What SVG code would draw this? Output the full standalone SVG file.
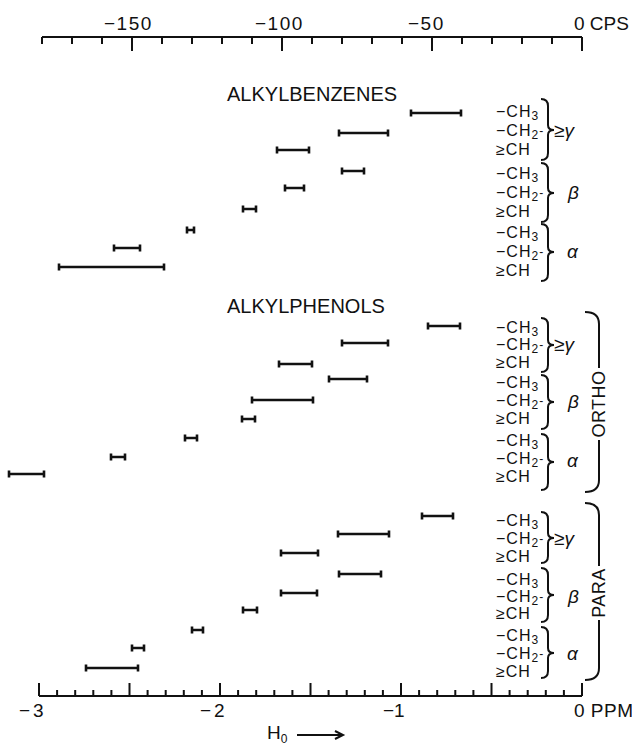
<svg xmlns="http://www.w3.org/2000/svg" width="632" height="748" viewBox="0 0 632 748">
<style>
.ax{stroke:#111;stroke-width:2;fill:none}
.bar{stroke:#111;stroke-width:2.6;fill:none}
.br{stroke:#111;stroke-width:2;fill:none}
text{font-family:"Liberation Sans",Arial,sans-serif;fill:#111}
.num{font-size:19px;letter-spacing:1.5px}
.hd{font-size:20px}
.lb{font-size:16px;letter-spacing:1px}
.gr{font-size:19px;font-style:italic;letter-spacing:0}
.sub{font-size:12px}
.side{font-size:18px;letter-spacing:0.5px}
</style>
<rect width="632" height="748" fill="#fff"/>
<g id="top-axis">
<path class="ax" d="M42,37H582 M42,37V44 M72,37V44 M102,37V44 M132,37V51 M162,37V44 M192,37V44 M222,37V44 M252,37V44 M282,37V51 M312,37V44 M342,37V44 M372,37V44 M402,37V44 M432,37V51 M462,37V44 M492,37V44 M522,37V44 M552,37V44 M582,37V51"/>
<text class="num" x="104" y="30">−150</text>
<text class="num" x="255" y="30">−100</text>
<text class="num" x="408" y="30">−50</text>
<text class="num" x="574" y="30" style="letter-spacing:0">0 CPS</text>
</g>
<g id="bottom-axis">
<path class="ax" d="M39,696H582 M39,696V683 M57.1,696V690 M75.2,696V690 M93.3,696V690 M111.4,696V690 M129.5,696V683 M147.6,696V690 M165.7,696V690 M183.8,696V690 M201.9,696V690 M220,696V683 M238.1,696V690 M256.2,696V690 M274.3,696V690 M292.4,696V690 M310.5,696V683 M328.6,696V690 M346.7,696V690 M364.8,696V690 M382.9,696V690 M401,696V683 M419.1,696V690 M437.2,696V690 M455.3,696V690 M473.4,696V690 M491.5,696V683 M509.6,696V690 M527.7,696V690 M545.8,696V690 M563.9,696V690 M582,696V683"/>
<text class="num" x="19" y="717" style="letter-spacing:3px">−3</text>
<text class="num" x="200" y="717" style="letter-spacing:3px">−2</text>
<text class="num" x="383" y="717" style="letter-spacing:0">−1</text>
<text class="num" x="574" y="717" style="letter-spacing:0.5px">0 PPM</text>
<text class="num" x="267" y="739" style="letter-spacing:0">H<tspan class="sub" dy="4">0</tspan></text>
<path class="ax" d="M297,735H343 M335,731L343,735L335,739" stroke-width="1.6"/>
</g>
<g id="headings">
<text class="hd" x="227" y="101">ALKYLBENZENES</text>
<text class="hd" x="227" y="313">ALKYLPHENOLS</text>
</g>
<g id="bars-benzenes" class="bar">
<path d="M411,113H461M411,109.5V116.5M461,109.5V116.5"/>
<path d="M339,133H388M339,129.5V136.5M388,129.5V136.5"/>
<path d="M277,150H309M277,146.5V153.5M309,146.5V153.5"/>
<path d="M342,171H364M342,167.5V174.5M364,167.5V174.5"/>
<path d="M285,188H304M285,184.5V191.5M304,184.5V191.5"/>
<path d="M243,209H256M243,205.5V212.5M256,205.5V212.5"/>
<path d="M187,230H194M187,226.5V233.5M194,226.5V233.5"/>
<path d="M114,248H140M114,244.5V251.5M140,244.5V251.5"/>
<path d="M59,267H164M59,263.5V270.5M164,263.5V270.5"/>
</g>
<g id="bars-ortho" class="bar">
<path d="M428,326H460M428,322.5V329.5M460,322.5V329.5"/>
<path d="M342,343H388M342,339.5V346.5M388,339.5V346.5"/>
<path d="M279,364H312M279,360.5V367.5M312,360.5V367.5"/>
<path d="M329,379H367M329,375.5V382.5M367,375.5V382.5"/>
<path d="M252,400H313M252,396.5V403.5M313,396.5V403.5"/>
<path d="M242,419H255M242,415.5V422.5M255,415.5V422.5"/>
<path d="M185,438H197M185,434.5V441.5M197,434.5V441.5"/>
<path d="M111,457H125M111,453.5V460.5M125,453.5V460.5"/>
<path d="M9,474H44M9,470.5V477.5M44,470.5V477.5"/>
</g>
<g id="bars-para" class="bar">
<path d="M422,516H453M422,512.5V519.5M453,512.5V519.5"/>
<path d="M338,534H389M338,530.5V537.5M389,530.5V537.5"/>
<path d="M281,553H318M281,549.5V556.5M318,549.5V556.5"/>
<path d="M339,574H381M339,570.5V577.5M381,570.5V577.5"/>
<path d="M281,593H317M281,589.5V596.5M317,589.5V596.5"/>
<path d="M243,610H257M243,606.5V613.5M257,606.5V613.5"/>
<path d="M192,630H203M192,626.5V633.5M203,626.5V633.5"/>
<path d="M132,648H144M132,644.5V651.5M144,644.5V651.5"/>
<path d="M86,668H138M86,664.5V671.5M138,664.5V671.5"/>
</g>
<g id="labels-benzenes" class="lb">
<text x="496" y="117">−CH<tspan class="sub" dy="3">3</tspan></text>
<text x="496" y="136">−CH<tspan class="sub" dy="3">2</tspan><tspan class="sub" dy="-4">-</tspan></text>
<text x="496" y="155">≥CH</text>
<path class="br" d="M541,99Q548,99 548,106V125Q548,130 554,130Q548,130 548,135V153Q548,160 541,160"/>
<text class="gr" x="554" y="137">≥γ</text>
<text x="496" y="179">−CH<tspan class="sub" dy="3">3</tspan></text>
<text x="496" y="198">−CH<tspan class="sub" dy="3">2</tspan><tspan class="sub" dy="-4">-</tspan></text>
<text x="496" y="217">≥CH</text>
<path class="br" d="M541,163Q548,163 548,170V188Q548,193 554,193Q548,193 548,198V215Q548,222 541,222"/>
<text class="gr" x="568" y="199">β</text>
<text x="496" y="238">−CH<tspan class="sub" dy="3">3</tspan></text>
<text x="496" y="257">−CH<tspan class="sub" dy="3">2</tspan><tspan class="sub" dy="-4">-</tspan></text>
<text x="496" y="276">≥CH</text>
<path class="br" d="M541,224Q548,224 548,231V247Q548,252 554,252Q548,252 548,257V274Q548,281 541,281"/>
<text class="gr" x="567" y="258">α</text>
</g>
<g id="labels-ortho" class="lb">
<text x="496" y="333">−CH<tspan class="sub" dy="3">3</tspan></text>
<text x="496" y="350">−CH<tspan class="sub" dy="3">2</tspan><tspan class="sub" dy="-4">-</tspan></text>
<text x="496" y="368">≥CH</text>
<path class="br" d="M541,318Q548,318 548,325V340Q548,345 554,345Q548,345 548,350V365Q548,372 541,372"/>
<text class="gr" x="554" y="351">≥γ</text>
<text x="496" y="388">−CH<tspan class="sub" dy="3">3</tspan></text>
<text x="496" y="406">−CH<tspan class="sub" dy="3">2</tspan><tspan class="sub" dy="-4">-</tspan></text>
<text x="496" y="424">≥CH</text>
<path class="br" d="M541,375Q548,375 548,382V397Q548,402 554,402Q548,402 548,407V422Q548,429 541,429"/>
<text class="gr" x="568" y="408">β</text>
<text x="496" y="446">−CH<tspan class="sub" dy="3">3</tspan></text>
<text x="496" y="464">−CH<tspan class="sub" dy="3">2</tspan><tspan class="sub" dy="-4">-</tspan></text>
<text x="496" y="482">≥CH</text>
<path class="br" d="M541,434Q548,434 548,441V457Q548,462 554,462Q548,462 548,467V483Q548,490 541,490"/>
<text class="gr" x="567" y="467">α</text>
</g>
<g id="labels-para" class="lb">
<text x="496" y="526">−CH<tspan class="sub" dy="3">3</tspan></text>
<text x="496" y="544">−CH<tspan class="sub" dy="3">2</tspan><tspan class="sub" dy="-4">-</tspan></text>
<text x="496" y="562">≥CH</text>
<path class="br" d="M541,512Q548,512 548,519V533Q548,538 554,538Q548,538 548,543V556Q548,563 541,563"/>
<text class="gr" x="554" y="545">≥γ</text>
<text x="496" y="585">−CH<tspan class="sub" dy="3">3</tspan></text>
<text x="496" y="602">−CH<tspan class="sub" dy="3">2</tspan><tspan class="sub" dy="-4">-</tspan></text>
<text x="496" y="619">≥CH</text>
<path class="br" d="M541,568Q548,568 548,575V590Q548,595 554,595Q548,595 548,600V615Q548,622 541,622"/>
<text class="gr" x="568" y="603">β</text>
<text x="496" y="641">−CH<tspan class="sub" dy="3">3</tspan></text>
<text x="496" y="659">−CH<tspan class="sub" dy="3">2</tspan><tspan class="sub" dy="-4">-</tspan></text>
<text x="496" y="677">≥CH</text>
<path class="br" d="M541,627Q548,627 548,634V648Q548,653 554,653Q548,653 548,658V671Q548,678 541,678"/>
<text class="gr" x="567" y="660">α</text>
</g>
<g id="ortho-brace">
<path class="br" d="M585,312Q599,312 599,324V368 M599,440V480Q599,492 585,492"/>
<text class="side" transform="translate(605,404) rotate(-90)" text-anchor="middle">ORTHO</text>
</g>
<g id="para-brace">
<path class="br" d="M585,503Q599,503 599,515V566 M599,620V668Q599,680 585,680"/>
<text class="side" transform="translate(605,593) rotate(-90)" text-anchor="middle">PARA</text>
</g>
</svg>
